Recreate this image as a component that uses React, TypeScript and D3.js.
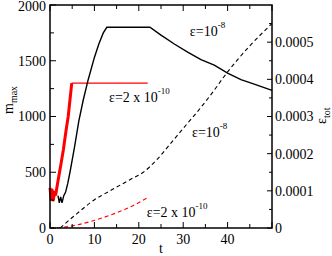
import * as d3 from 'd3';

// m_max, eps = 1e-8 (black solid)
const BLACK_T = [1.8, 2.1, 2.4, 2.7, 3.1, 3.5, 4.0, 4.5, 5.5, 6.5, 7.5, 8.6, 10, 11, 12, 12.8, 22.5, 25, 28, 31, 34, 37, 40, 43, 46, 50];
const BLACK_M = [290, 225, 280, 225, 290, 320, 400, 500, 720, 960, 1150, 1330, 1530, 1650, 1750, 1800, 1800, 1730, 1650, 1578, 1510, 1460, 1390, 1330, 1290, 1235];

// m_max, eps = 2e-10 (red, thick rise then flat)
const RED_T = [0, 0.25, 0.5, 0.75, 1.0, 1.3, 1.7, 2.1, 2.5, 3.0, 3.6, 4.1, 4.5, 4.9];
const RED_M = [360, 260, 340, 250, 320, 300, 400, 490, 580, 700, 870, 1000, 1150, 1300];
const RED_FLAT_T = [4.9, 22];
const RED_FLAT_M = [1300, 1300];

// eps_tot (right axis)
const EPS_BLACK_T = [2.3, 4, 6, 8, 10, 12, 15, 18, 21, 24, 27, 30, 33, 36, 40, 45, 50];
const EPS_BLACK = [0, 0.000018, 0.000038, 0.000058, 0.000076, 0.00009, 0.00011, 0.00013, 0.00015, 0.000183, 0.000225, 0.000268, 0.00031, 0.000355, 0.00042, 0.00049, 0.00055];
const EPS_RED_T = [0, 3, 6, 9, 12, 15, 18, 22];
const EPS_RED = [0, 0.000002, 0.000008, 0.000017, 0.000028, 0.000041, 0.000056, 0.000082];

const X_TICKS = [0, 10, 20, 30, 40];
const X_MINOR = [5, 15, 25, 35, 45];
const Y_TICKS = [0, 500, 1000, 1500, 2000];
const Y_MINOR = [250, 750, 1250, 1750];
const Y2_TICKS = [0, 0.0001, 0.0002, 0.0003, 0.0004, 0.0005];
const Y2_LABELS = ['0', '0.0001', '0.0002', '0.0003', '0.0004', '0.0005'];
const Y2_MINOR = [0.00005, 0.00015, 0.00025, 0.00035, 0.00045, 0.00055];

// annotations in data coords (t, m_max)
const NOTES = [
  { t: 31.5, m: 1722, base: 'ε=10', sup: '-8' },
  { t: 13.3, m: 1130, base: 'ε=2 x 10', sup: '-10' },
  { t: 32, m: 816, base: 'ε=10', sup: '-8' },
  { t: 21.8, m: 99, base: 'ε=2 x 10', sup: '-10' },
];

const W = 332, H = 256;
const L = 50, R = 272, T = 5, B = 228;
const FONT = '"Liberation Serif", "DejaVu Serif", serif';

export default function App() {
  const x = d3.scaleLinear().domain([0, 50]).range([L, R]);
  const y = d3.scaleLinear().domain([0, 2000]).range([B, T]);
  const y2 = d3.scaleLinear().domain([0, 0.0006]).range([B, T]);

  const lineM = (ts: number[], ms: number[]) =>
    d3.line<number>().x((_, i) => x(ts[i])).y((d) => y(d))(ms) || '';
  const lineE = (ts: number[], es: number[]) =>
    d3.line<number>().curve(d3.curveMonotoneX).x((_, i) => x(ts[i])).y((d) => y2(d))(es) || '';

  return (
    <svg width={W} height={H} style={{ position: 'absolute', left: 0, top: 0, background: '#fff' }} fontFamily={FONT}>
      {/* curves */}
      <path d={lineE(EPS_BLACK_T, EPS_BLACK)} fill="none" stroke="#000" strokeWidth={1.1} strokeDasharray="4,3" />
      <path d={lineE(EPS_RED_T, EPS_RED)} fill="none" stroke="#ff0000" strokeWidth={1.1} strokeDasharray="4,3" />
      <path d={lineM(RED_FLAT_T, RED_FLAT_M)} fill="none" stroke="#ff0000" strokeWidth={1.3} />
      <path d={lineM(RED_T, RED_M)} fill="none" stroke="#ff0000" strokeWidth={3} strokeLinejoin="round" />
      <path d={lineM(BLACK_T, BLACK_M)} fill="none" stroke="#000" strokeWidth={1.4} />

      {/* frame */}
      <rect x={L} y={T} width={R - L} height={B - T} fill="none" stroke="#000" strokeWidth={1.5} />

      {/* x ticks bottom & top */}
      {X_TICKS.concat([50]).map((v) => (
        <g key={'x' + v}>
          <line x1={x(v)} x2={x(v)} y1={B} y2={B - 6} stroke="#000" />
          <line x1={x(v)} x2={x(v)} y1={T} y2={T + 6} stroke="#000" />
        </g>
      ))}
      {X_MINOR.map((v) => (
        <g key={'xm' + v}>
          <line x1={x(v)} x2={x(v)} y1={B} y2={B - 4} stroke="#000" />
          <line x1={x(v)} x2={x(v)} y1={T} y2={T + 4} stroke="#000" />
        </g>
      ))}
      {X_TICKS.map((v) => (
        <text key={'xl' + v} x={x(v)} y={244} fontSize={14} textAnchor="middle">{v}</text>
      ))}
      <text x={161} y={253} fontSize={14} textAnchor="middle">t</text>

      {/* left axis */}
      {Y_TICKS.map((v) => (
        <g key={'y' + v}>
          <line x1={L} x2={L + 6} y1={y(v)} y2={y(v)} stroke="#000" />
          <text x={L - 4} y={Math.max(y(v), 6)} dy="0.35em" fontSize={14} textAnchor="end">{v}</text>
        </g>
      ))}
      {Y_MINOR.map((v) => (
        <line key={'ym' + v} x1={L} x2={L + 4} y1={y(v)} y2={y(v)} stroke="#000" />
      ))}
      <text transform={`translate(13,114) rotate(-90)`} fontSize={14}>
        m<tspan fontSize={10} dy={4}>max</tspan>
      </text>

      {/* right axis */}
      {Y2_TICKS.map((v, i) => (
        <g key={'r' + v}>
          <line x1={R} x2={R - 5} y1={y2(v)} y2={y2(v)} stroke="#000" />
          <text x={R + 3} y={y2(v)} dy="0.35em" fontSize={14}>{Y2_LABELS[i]}</text>
        </g>
      ))}
      {Y2_MINOR.map((v) => (
        <line key={'rm' + v} x1={R} x2={R - 3} y1={y2(v)} y2={y2(v)} stroke="#000" />
      ))}
      <text transform={`translate(326,124) rotate(-90)`} fontSize={14}>
        ε<tspan fontSize={10} dy={4}>tot</tspan>
      </text>

      {/* annotations */}
      {NOTES.map((n, i) => (
        <text key={'n' + i} x={x(n.t)} y={y(n.m)} fontSize={14}>
          {n.base}
          <tspan fontSize={9} dy={-8}>{n.sup}</tspan>
        </text>
      ))}
    </svg>
  );
}
